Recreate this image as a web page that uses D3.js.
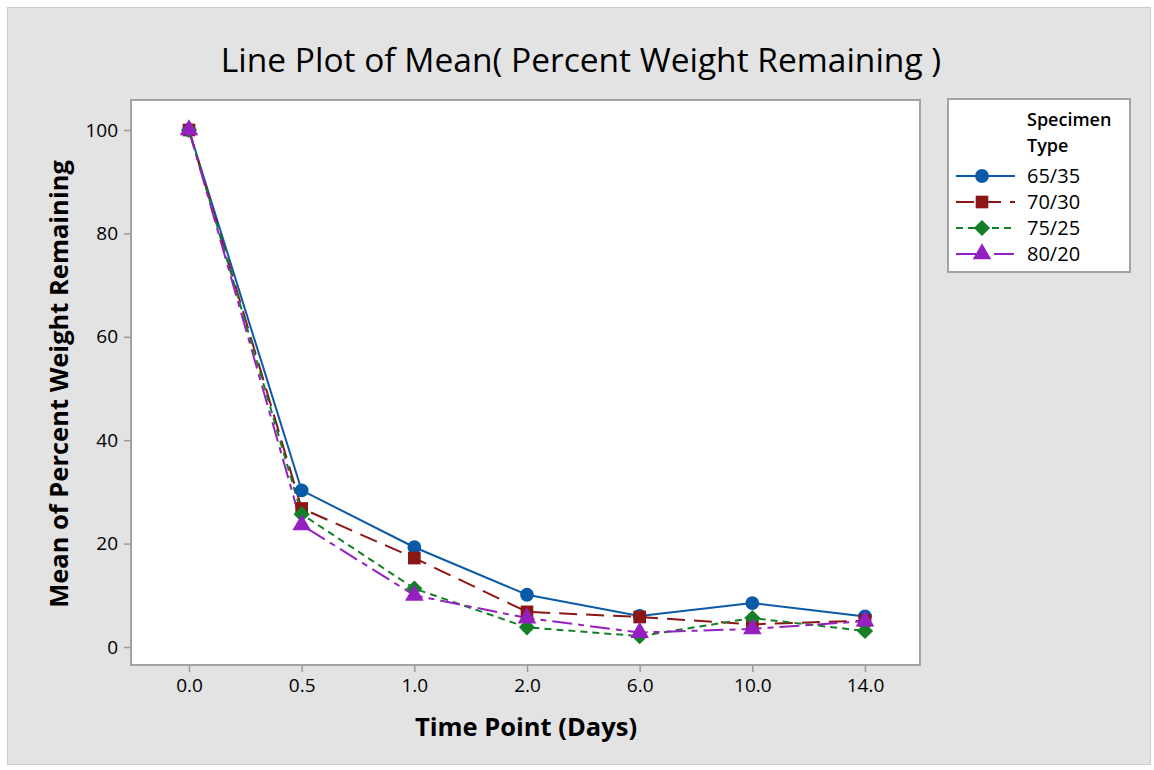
<!DOCTYPE html>
<html><head><meta charset="utf-8">
<script src="https://cdn.jsdelivr.net/npm/d3@7"></script>
<style>body{margin:0;background:#fff;}svg{display:block;font-family:"Open Sans","Noto Sans",sans-serif;}</style>
</head><body>
<svg id="c" width="1154" height="770"></svg>
<script>
const timePoints = ["0.0","0.5","1.0","2.0","6.0","10.0","14.0"];
const seriesNames = ["65/35","70/30","75/25","80/20"];
const s6535 = [100, 30.3, 19.3, 10.1, 6.0, 8.5, 5.9];
const s7030 = [100, 26.8, 17.2, 6.8, 5.8, 4.4, 5.1];
const s7525 = [100, 25.7, 11.3, 3.8, 2.1, 5.6, 3.1];
const s8020 = [100, 23.6, 10.0, 5.6, 2.8, 3.5, 5.0];
const yTicks = [0, 20, 40, 60, 80, 100];
const colors = ["#0b5aa8", "#8c1515", "#138027", "#9421bf"];
const dashes = [null, "18,9", "7,5", "20,6,6,6"];
const symbols = [d3.symbolCircle, d3.symbolSquare, d3.symbolSquare, d3.symbolTriangle];
const symSizes = [150, 160, 132, 150];
const symRot = [0, 0, 45, 0];
const allSeries = [s6535, s7030, s7525, s8020];

const svg = d3.select("#c");
svg.append("rect").attr("x",7.5).attr("y",7.5).attr("width",1143).attr("height",757)
  .attr("fill","#e3e3e3").attr("stroke","#cccccc");

const L=131, T=100, R=920, B=665;
svg.append("rect").attr("x",L).attr("y",T).attr("width",R-L).attr("height",B-T).attr("fill","#fff");

const x = d3.scalePoint().domain(timePoints).range([189, 865]);
const y = d3.scaleLinear().domain([0,100]).range([647, 130]);

const yAxis = svg.append("g").attr("transform",`translate(${L},0)`)
  .call(d3.axisLeft(y).tickValues(yTicks).tickSize(7).tickPadding(6));
const xAxis = svg.append("g").attr("transform",`translate(0,${B})`)
  .call(d3.axisBottom(x).tickSize(7).tickPadding(7));
[yAxis,xAxis].forEach(a=>{
  a.select(".domain").remove();
  a.selectAll(".tick line").attr("stroke","#9a9a9a").attr("stroke-width",1.5);
  a.selectAll(".tick text").attr("fill","#000").style("font-size","19px").style("font-family","'Open Sans',sans-serif");
});

svg.append("rect").attr("x",L).attr("y",T).attr("width",R-L).attr("height",B-T)
  .attr("fill","none").attr("stroke","#a3a3a3").attr("stroke-width",2);

const line = d3.line().x((d,i)=>x(timePoints[i])).y(d=>y(d));
allSeries.forEach((s,k)=>{
  svg.append("path").datum(s).attr("d",line).attr("fill","none")
    .attr("stroke",colors[k]).attr("stroke-width",2)
    .attr("stroke-dasharray",dashes[k]);
});
allSeries.forEach((s,k)=>{
  svg.append("g").selectAll("path").data(s).join("path")
    .attr("transform",(d,i)=>`translate(${x(timePoints[i])},${y(d)}) rotate(${symRot[k]})`)
    .attr("d",d3.symbol().type(symbols[k]).size(symSizes[k]))
    .attr("fill",colors[k]);
});

svg.append("text").attr("x",581).attr("y",72).attr("text-anchor","middle")
  .style("font-size","33.5px").attr("fill","#000").text("Line Plot of Mean( Percent Weight Remaining )");
svg.append("text").attr("x",526).attr("y",736).attr("text-anchor","middle")
  .style("font-size","25.5px").style("font-weight","bold").attr("fill","#000").text("Time Point (Days)");
svg.append("text").attr("transform","translate(68,384) rotate(-90)").attr("text-anchor","middle")
  .style("font-size","25.5px").style("font-weight","bold").attr("fill","#000").text("Mean of Percent Weight Remaining");

// legend
const lg = svg.append("g");
lg.append("rect").attr("x",948).attr("y",99).attr("width",182).attr("height",173)
  .attr("fill","#fff").attr("stroke","#a3a3a3").attr("stroke-width",2);
lg.append("text").attr("x",1027).attr("y",126).style("font-size","18px").style("font-weight","600").attr("fill","#000").text("Specimen");
lg.append("text").attr("x",1027).attr("y",152).style("font-size","18px").style("font-weight","600").attr("fill","#000").text("Type");
const ly = d3.scalePoint().domain(seriesNames).range([176, 254]);
seriesNames.forEach((n,k)=>{
  const yy = ly(n);
  lg.append("line").attr("x1",956).attr("x2",1015).attr("y1",yy).attr("y2",yy)
    .attr("stroke",colors[k]).attr("stroke-width",2).attr("stroke-dasharray",dashes[k]);
  lg.append("path").attr("transform",`translate(982,${yy}) rotate(${symRot[k]})`)
    .attr("d",d3.symbol().type(symbols[k]).size(symSizes[k])).attr("fill",colors[k]);
  lg.append("text").attr("x",1027).attr("y",yy+7).style("font-size","20px").attr("fill","#000").text(n);
});
</script>
</body></html>
